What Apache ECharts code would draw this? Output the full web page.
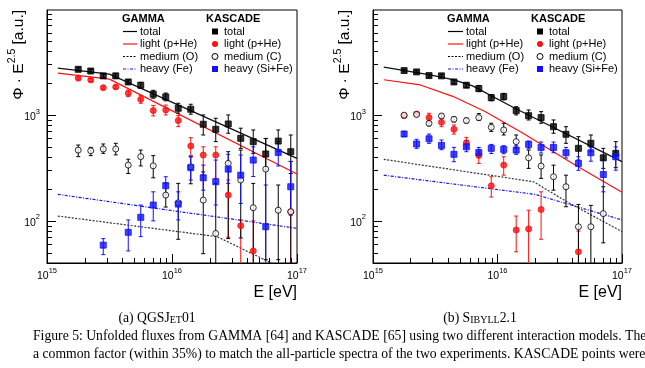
<!DOCTYPE html>
<html><head><meta charset="utf-8">
<script src="https://cdn.jsdelivr.net/npm/echarts@6/dist/echarts.min.js"></script>
<style>html,body{margin:0;padding:0;background:#fff}#c{width:645px;height:368px}</style>
</head><body><div id="c"></div>
<script>
// ---- data ----
const energies = [1.778e15,2.239e15,2.818e15,3.548e15,4.467e15,5.623e15,7.079e15,8.913e15,1.122e16,1.413e16,1.778e16,2.239e16,2.818e16,3.548e16,4.467e16,5.623e16,7.079e16,8.913e16];

// (a) QGSJet01 - KASCADE points (value, upper and lower ends of error bar; 0 = bar reaches bottom)
const qTotal   = [2700,2600,2340,2340,2050,1910,1570,1480,1157,1132,817,732,822,602,560,428,567,450];
const qTotalHi = [2800,2700,2430,2450,2140,2030,1710,1610,1290,1262,1000,931,1000,750,722,600,722,647];
const qTotalLo = [2600,2500,2250,2230,1960,1790,1440,1360,1040,1016,647,560,672,484,434,302,450,280];
const qLight   = [2225,2140,1810,1840,1600,1405,1100,1115,886,509,419,419,175,90,52,null,null,122];
const qLightHi = [2300,2210,1870,1910,1720,1530,1230,1240,985,610,500,500,243,102,100,null,null,364];
const qLightLo = [2150,2070,1750,1770,1490,1290,980,1000,775,413,270,252,70,0,0,null,null,0];
const qMedium   = [466,459,477,477,336,404,331,175,148,324,157,76,349,243,133,308,126,122];
const qMediumHi = [520,494,532,540,382,466,413,228,226,403,290,226,450,466,226,600,218,364];
const qMediumLo = [404,413,434,420,280,330,255,135,67,224,49,0,68,69,0,43,43,0];
const qHeavy   = [null,null,59,null,78,108,141,215,144,318,255,234,308,270,375,88,443,210];
const qHeavyHi = [null,null,68,null,102,141,188,261,188,403,336,375,425,419,500,218,560,364];
const qHeavyLo = [null,null,48,null,52,71,100,175,102,243,195,141,226,146,262,0,330,113];

// (b) Sibyll2.1 - KASCADE points
const sTotal   = [2625,2550,2355,2340,2050,1910,1775,1458,1490,1098,985,944,775,657,484,540,394,434];
const sTotalHi = [2700,2620,2430,2420,2130,2000,1900,1560,1600,1198,1115,1075,897,775,624,647,484,560];
const sTotalLo = [2550,2480,2280,2260,1970,1820,1660,1360,1390,1000,897,835,672,540,375,450,313,318];
const sLight   = [985,1022,944,853,732,547,415,214,336,82,84,128,null,null,51,null,null,null];
const sLightHi = [1020,1060,1038,931,805,615,450,261,403,111,126,188,null,null,80,null,null,null];
const sLightLo = [950,985,846,775,660,494,349,168,270,51,0,67,null,null,0,null,null,null];
const sMedium   = [995,1010,834,979,910,885,944,765,722,560,394,329,261,210,88,88,117,null];
const sMediumHi = [1030,1045,880,1020,960,935,1030,835,835,647,466,419,336,270,143,140,210,null];
const sMediumLo = [960,975,790,940,860,840,890,700,647,484,313,252,195,136,0,0,62,null];
const sHeavy   = [661,532,596,516,425,501,443,484,473,466,528,494,494,440,349,440,274,403];
const sHeavyHi = [700,589,660,580,494,570,494,527,512,512,567,555,555,494,403,494,375,500];
const sHeavyLo = [625,484,540,470,362,450,399,433,430,425,480,437,440,392,300,366,188,301];

// GAMMA model lines (energy knots, values)
const qLineTotalE = [1.22e15,3.16e15,1e17],  qLineTotal = [2770,2427,389];
const qLineLightE = [1.22e15,3.16e15,1e17],  qLineLight = [2480,2180,277];
const qLineMedE   = [1.22e15,2.29e16,1e17],  qLineMed   = [111,71,30.5];
const qLineHeavyE = [1.22e15,1e17],          qLineHeavy = [178,85];
const sLineTotalE = [1.22e15,2.88e15,4.47e15,6.31e15,1.38e16,1e17], sLineTotal = [2825,2390,2150,1880,1157,362];
const sLineLightE = [1.22e15,2.40e15,4.37e15,7.94e15,1.58e16,3.98e16,1e17], sLineLight = [2150,1920,1500,1080,680,350,186];
const sLineMedE   = [1.22e15,1.95e16,3.63e16,1e17], sLineMed = [381,234,151,79];
const sLineHeavyE = [1.22e15,2.0e16,1e17], sLineHeavy = [270,178,102];

// axis ticks
const xMinorTicks = [2e15,3e15,4e15,5e15,6e15,7e15,8e15,9e15,2e16,3e16,4e16,5e16,6e16,7e16,8e16,9e16];
const yMinorTicks = [50,60,70,80,90,200,300,400,500,600,700,800,900,2000,3000,4000,5000,6000,7000,8000,9000];
const xMin = 1e15, xMax = 1e17, yMin = 40, yMax = 9800;

// ---- styling ----
const SANS = 'Liberation Sans, Arial, Helvetica, sans-serif';
const SERIF = 'Liberation Serif, Times New Roman, serif';
const RED = '#ff1010', BLUE = '#1010ff';

const chart = echarts.init(document.getElementById('c'), null, {renderer:'canvas'});

function pts(vals){ const o=[]; vals.forEach((v,i)=>{ if(v!=null) o.push([energies[i], v]); }); return o; }
function errs(vals,hi,lo){ const o=[]; vals.forEach((v,i)=>{ if(v!=null) o.push([energies[i], lo[i], hi[i]]); }); return o; }
function zip(a,b){ return a.map((v,i)=>[v,b[i]]); }

function errRender(color){
  return function(params, api){
    const cs = params.coordSys;
    const e = api.value(0), lo = api.value(1), hi = api.value(2);
    const pTop = api.coord([e, hi]);
    const x = pTop[0];
    const bottomEdge = cs.y + cs.height;
    const top = Math.max(cs.y, pTop[1]);
    let bot = bottomEdge;
    if (lo > 0) bot = Math.min(bottomEdge, api.coord([e, lo])[1]);
    const st = {stroke: color, lineWidth: 1};
    const ch = [
      {type:'line', shape:{x1:x, y1:top, x2:x, y2:bot}, style:st},
      {type:'line', shape:{x1:x-2, y1:top, x2:x+2, y2:top}, style:st}
    ];
    if (lo > 0 && bot < bottomEdge) ch.push({type:'line', shape:{x1:x-2, y1:bot, x2:x+2, y2:bot}, style:st});
    return {type:'group', children:ch};
  };
}

function kascade(gi, vals, hi, lo, color, symbol, fill){
  return [
    {type:'custom', xAxisIndex:gi, yAxisIndex:gi, renderItem: errRender(color), data: errs(vals,hi,lo),
     encode:{x:0, y:2}, z:3, silent:true, clip:false},
    {type:'scatter', xAxisIndex:gi, yAxisIndex:gi, data: pts(vals), symbol: symbol, symbolSize: 6, z:4, silent:true,
     itemStyle:{color: fill, borderColor: color, borderWidth: 1}}
  ];
}
function gline(gi, E, V, color, type, width){
  return {type:'line', xAxisIndex:gi, yAxisIndex:gi, data: zip(E,V), symbol:'none', z:2, silent:true,
          lineStyle:{color: color, type: type, width: width}};
}
function minorX(gi){
  return {type:'custom', xAxisIndex:gi, yAxisIndex:gi, silent:true, z:5, clip:false,
    data: xMinorTicks.map(v=>[v, 100]), encode:{x:0, y:1},
    renderItem: function(params, api){
      const cs = params.coordSys; const x = Math.round(api.coord([api.value(0), 100])[0]) + 0.5;
      const yb = cs.y + cs.height;
      return {type:'line', shape:{x1:x, y1:yb, x2:x, y2:yb-5}, style:{stroke:'#000', lineWidth:1}};
    }};
}
function minorY(gi){
  return {type:'custom', xAxisIndex:gi, yAxisIndex:gi, silent:true, z:5, clip:false,
    data: yMinorTicks.map(v=>[1e16, v]), encode:{x:0, y:1},
    renderItem: function(params, api){
      const cs = params.coordSys; const y = Math.round(api.coord([1e16, api.value(1)])[1]) + 0.5;
      return {type:'line', shape:{x1:cs.x, y1:y, x2:cs.x+5, y2:y}, style:{stroke:'#000', lineWidth:1}};
    }};
}

const supRich = {
  b:{fontFamily:SANS, fontSize:10.5, color:'#000', lineHeight:15, verticalAlign:'bottom'},
  s:{fontFamily:SANS, fontSize:7.5, color:'#000', lineHeight:8, verticalAlign:'top'}
};
function powLabel(v){ return '{b|10}{s|' + Math.round(Math.log10(v)) + '}'; }

function xAxisCfg(gi){
  return {type:'log', logBase:10, gridIndex:gi, min:xMin, max:xMax,
    axisLine:{show:true, onZero:false, lineStyle:{color:'#000', width:1}},
    axisTick:{show:true, inside:true, length:9, lineStyle:{color:'#000'}},
    axisLabel:{formatter: powLabel, rich: supRich, margin:4, color:'#000'},
    splitLine:{show:false}, minorTick:{show:false},
    name:'E [eV]', nameLocation:'end', nameGap:0,
    nameTextStyle:{fontFamily:SANS, fontSize:16, color:'#000', align:'right', verticalAlign:'top', padding:[22,0,0,0]}
  };
}
function yAxisCfg(gi){
  return {type:'log', logBase:10, gridIndex:gi, min:yMin, max:yMax,
    axisLine:{show:true, onZero:false, lineStyle:{color:'#000', width:1}},
    axisTick:{show:true, inside:true, length:9, lineStyle:{color:'#000'}},
    axisLabel:{formatter: powLabel, rich: supRich, margin:7, color:'#000', showMinLabel:false, showMaxLabel:false},
    splitLine:{show:false}, minorTick:{show:false},
    name:'{a|\u03A6 \u00B7 E}{s|2.5}{a| [a.u.]}', nameLocation:'end', nameGap:0, nameRotate:90,
    nameTextStyle:{align:'right', verticalAlign:'bottom', padding:[0,0,20,0],
      rich:{a:{fontFamily:SANS, fontSize:15.5, color:'#000', lineHeight:20, verticalAlign:'bottom'},
            s:{fontFamily:SANS, fontSize:10.5, color:'#000', lineHeight:11, verticalAlign:'top'}}}
  };
}

// ---- legends (graphic) ----
const legendRows = [31.5, 44, 56.5, 69];
function legendGraphics(gTitleX, lx1, lx2, ltx, kTitleX, mx, ktx){
  const g = [];
  const txt = (x,y,t,bold)=>({type:'text', x:x, y:y, silent:true,
     style:{text:t, fill:'#000', font:(bold?'bold ':'') + '11px ' + SANS, verticalAlign:'middle', align:'left'}});
  g.push(txt(gTitleX, 19, 'GAMMA', true));
  g.push(txt(kTitleX, 19, 'KASCADE', true));
  const gItems = [['total','#000',null],['light (p+He)',RED,null],['medium (O)','#000',[2,1.5]],['heavy (Fe)',BLUE,[3,1.5,1,1.5]]];
  gItems.forEach((it,i)=>{
    const y = legendRows[i];
    g.push({type:'line', silent:true, shape:{x1:lx1, y1:y, x2:lx2, y2:y}, style:{stroke:it[1], lineWidth:1.2, lineDash:it[2]}});
    g.push(txt(ltx, y, it[0], false));
  });
  const kItems = ['total','light (p+He)','medium (C)','heavy (Si+Fe)'];
  g.push({type:'rect', silent:true, shape:{x:mx-3, y:legendRows[0]-3, width:6, height:6}, style:{fill:'#000'}});
  g.push({type:'circle', silent:true, shape:{cx:mx, cy:legendRows[1], r:3}, style:{fill:RED}});
  g.push({type:'circle', silent:true, shape:{cx:mx, cy:legendRows[2], r:3}, style:{fill:'#fff', stroke:'#000', lineWidth:1}});
  g.push({type:'rect', silent:true, shape:{x:mx-3, y:legendRows[3]-3, width:6, height:6}, style:{fill:BLUE}});
  kItems.forEach((t,i)=> g.push(txt(ktx, legendRows[i], t, false)));
  return g;
}

const capRich = {
  n:{fontFamily:SERIF, fontSize:13.7, color:'#000', lineHeight:16, verticalAlign:'bottom'},
  sc:{fontFamily:SERIF, fontSize:10, color:'#000', lineHeight:14, verticalAlign:'bottom'},
  l:{fontFamily:SERIF, fontSize:13.7, color:'#2424cc', lineHeight:16, verticalAlign:'bottom'}
};
const captionGraphics = [
  {type:'text', x:157, y:317.5, silent:true, style:{text:'{n|(a) QGSJ}{sc|ET}{n|01}', rich:capRich, align:'center', verticalAlign:'middle'}},
  {type:'text', x:480, y:317.5, silent:true, style:{text:'{n|(b) S}{sc|IBYLL}{n|2.1}', rich:capRich, align:'center', verticalAlign:'middle'}},
  {type:'text', x:33, y:335.5, silent:true, style:{text:'{n|Figure 5: Unfolded fluxes from GAMMA [}{l|64}{n|] and KASCADE [}{l|65}{n|] using two different interaction models. The}', rich:capRich, align:'left', verticalAlign:'middle'}},
  {type:'text', x:33, y:353.5, silent:true, style:{text:'{n|a common factor (within 35%) to match the all-particle spectra of the two experiments. KASCADE points were}', rich:capRich, align:'left', verticalAlign:'middle'}}
];

const series = [
  gline(0, qLineTotalE, qLineTotal, '#111', 'solid', 1.3),
  gline(0, qLineLightE, qLineLight, RED, 'solid', 1.2),
  gline(0, qLineMedE, qLineMed, '#333', [2,1.5], 1.2),
  gline(0, qLineHeavyE, qLineHeavy, BLUE, [3,1.5,1,1.5], 1.2),
  ...kascade(0, qTotal, qTotalHi, qTotalLo, '#000', 'rect', '#000'),
  ...kascade(0, qLight, qLightHi, qLightLo, RED, 'circle', RED),
  ...kascade(0, qMedium, qMediumHi, qMediumLo, '#000', 'circle', '#fff'),
  ...kascade(0, qHeavy, qHeavyHi, qHeavyLo, BLUE, 'rect', BLUE),
  gline(1, sLineTotalE, sLineTotal, '#111', 'solid', 1.3),
  gline(1, sLineLightE, sLineLight, RED, 'solid', 1.2),
  gline(1, sLineMedE, sLineMed, '#333', [2,1.5], 1.2),
  gline(1, sLineHeavyE, sLineHeavy, BLUE, [3,1.5,1,1.5], 1.2),
  ...kascade(1, sTotal, sTotalHi, sTotalLo, '#000', 'rect', '#000'),
  ...kascade(1, sLight, sLightHi, sLightLo, RED, 'circle', RED),
  ...kascade(1, sMedium, sMediumHi, sMediumLo, '#000', 'circle', '#fff'),
  ...kascade(1, sHeavy, sHeavyHi, sHeavyLo, BLUE, 'rect', BLUE),
  minorX(0), minorY(0), minorX(1), minorY(1)
];

chart.setOption({
  animation:false,
  backgroundColor:'#fff',
  grid:[
    {left:47, top:10, width:250, height:253, show:true, borderColor:'#000', borderWidth:1, backgroundColor:'transparent'},
    {left:373, top:10, width:249, height:253, show:true, borderColor:'#000', borderWidth:1, backgroundColor:'transparent'}
  ],
  xAxis:[xAxisCfg(0), xAxisCfg(1)],
  yAxis:[yAxisCfg(0), yAxisCfg(1)],
  series: series,
  graphic: [
    ...legendGraphics(122, 123, 137, 140, 206, 215, 224),
    ...legendGraphics(447, 448, 463, 466, 531, 540, 549),
    ...captionGraphics
  ]
});
</script></body></html>
